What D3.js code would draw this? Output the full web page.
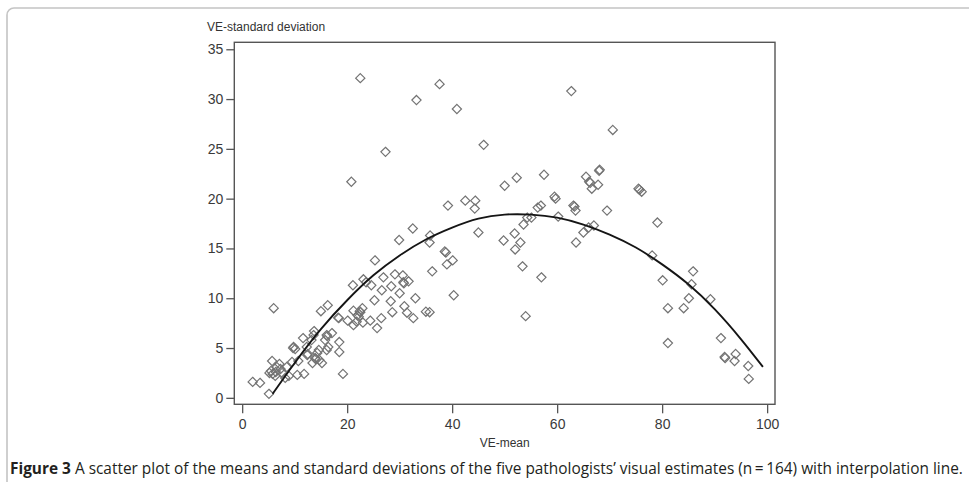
<!DOCTYPE html>
<html>
<head>
<meta charset="utf-8">
<script src="https://cdn.jsdelivr.net/npm/d3@7/dist/d3.min.js"></script>
<style>
  body { margin: 0; background: #fff; }
  svg text { font-family: "Liberation Sans", Arial, sans-serif; }
</style>
</head>
<body>
<div id="chart"></div>
<script>

// mean and SD of the five visual estimates, one entry per case
var veMean = [2.0, 3.4, 5.1, 6.0, 5.7, 5.2, 5.8, 5.5, 6.6, 7.1, 6.3, 7.6, 8.2, 8.5, 9.5, 9.8, 10.1, 10.7, 10.5, 8.9,
  11.6, 11.8, 12.4, 12.3, 13.2, 13.7, 13.6, 13.4, 13.9, 14.3, 14.6, 14.7, 15.2, 15.0, 16.3, 16.1, 17.1, 16.4, 16.1, 15.8,
  18.3, 18.5, 18.5, 19.2, 20.1, 21.1, 21.2, 21.2, 21.8, 22.2, 22.5, 22.9, 23.1, 23.6, 23.0, 24.4, 24.6, 25.2, 25.3, 25.7,
  26.5, 26.6, 26.9, 28.4, 28.3, 28.6, 29.1, 30.0, 30.6, 30.7, 30.9, 31.4, 31.7, 32.6, 33.0, 35.0, 35.7, 36.2, 38.8, 39.0,
  40.1, 40.3, 22.5, 33.2, 37.6, 40.9, 27.3, 46.0, 20.8, 32.5, 35.8, 35.7, 29.9, 38.6, 39.2, 42.5, 44.4, 44.3, 45.0,
  50.0, 52.3, 57.5, 62.7, 59.5, 56.9, 56.3, 63.1, 63.5, 65.5, 66.1, 66.6, 60.2, 54.3, 55.1, 70.6, 68.1, 67.8, 75.5, 76.1,
  69.5, 79.1, 49.8, 51.9, 53.0, 52.0, 53.6, 63.6, 65.0, 66.0, 67.0, 78.1, 53.4, 57.0, 54.0,
  80.1, 85.9, 85.6, 85.1, 89.2, 81.1, 84.1, 81.1, 91.2, 91.9, 92.0, 94.0, 93.8, 96.4, 96.5,
  9.7, 6.4, 7.3, 12.5, 22.4, 22.0, 30.8, 14.0, 68.0, 75.7, 66.3, 59.7, 63.3, 16.2, 18.4];
var veSd = [1.6, 1.5, 0.4, 9.0, 3.7, 2.5, 2.4, 2.7, 3.1, 3.4, 2.2, 2.5, 2.0, 3.1, 3.6, 5.1, 4.9, 3.7, 2.3, 2.2,
  6.0, 2.4, 4.3, 5.1, 5.8, 6.7, 6.3, 3.5, 4.0, 4.5, 4.8, 3.8, 3.5, 8.7, 9.3, 6.3, 6.5, 5.1, 4.8, 5.8,
  8.05, 5.6, 4.6, 2.4, 7.75, 11.3, 8.75, 7.3, 7.65, 8.15, 8.6, 9.0, 11.9, 11.6, 7.55, 7.75, 11.3, 9.8, 13.8, 7.0,
  8.0, 10.8, 12.1, 11.2, 9.7, 8.6, 12.4, 10.5, 12.3, 11.6, 9.2, 8.55, 11.7, 8.0, 10.0, 8.65, 8.6, 12.7, 14.6, 13.4,
  13.8, 10.3, 32.1, 29.9, 31.5, 29.0, 24.7, 25.4, 21.7, 17.0, 16.3, 15.6, 15.85, 14.7, 19.3, 19.8, 19.8, 19.0, 16.6,
  21.3, 22.1, 22.4, 30.8, 20.2, 19.3, 19.1, 19.3, 18.8, 22.2, 21.7, 21.0, 18.2, 18.1, 18.1, 26.9, 22.9, 21.4, 21.0, 20.7,
  18.8, 17.6, 15.8, 16.5, 15.6, 14.9, 17.4, 15.6, 16.6, 17.1, 17.3, 14.3, 13.2, 12.1, 8.2,
  11.8, 12.7, 11.4, 10.0, 9.9, 9.0, 9.0, 5.5, 6.0, 4.1, 4.0, 4.4, 3.7, 3.2, 1.9,
  5.0, 2.6, 2.9, 4.4, 8.7, 8.3, 11.5, 3.9, 22.8, 20.9, 21.6, 20.0, 19.2, 6.2, 8.0];

// interpolation line
var fitMean = [5.8, 10, 15, 20, 25, 30, 35, 40, 45, 50, 55, 60, 65, 70, 75, 80, 85, 90, 95, 99.2];
var fitSd = [0.4, 3.5, 6.9, 9.8, 12.3, 14.3, 15.9, 17.1, 18.0, 18.4, 18.4, 18.1, 17.4, 16.4, 15.1, 13.4, 11.4, 8.9, 5.9, 3.1];

var xTicks = [0, 20, 40, 60, 80, 100];
var yTicks = [0, 5, 10, 15, 20, 25, 30, 35];

var width = 969, height = 482;

var svg = d3.select("#chart").append("svg")
  .attr("width", width)
  .attr("height", height);

// rounded panel border
svg.append("rect")
  .attr("x", 7).attr("y", 8)
  .attr("width", 1000).attr("height", 600)
  .attr("rx", 7)
  .attr("fill", "none")
  .attr("stroke", "#c4c4c4")
  .attr("stroke-width", 1.6);

var x = d3.scaleLinear().domain([-1.5, 101.5]).range([234.3, 775]);
var y = d3.scaleLinear().domain([-0.65, 35.7]).range([404.3, 42.3]);

// plot frame
svg.append("rect")
  .attr("x", x(-1.5)).attr("y", y(35.7))
  .attr("width", x(101.5) - x(-1.5))
  .attr("height", y(-0.65) - y(35.7))
  .attr("fill", "none")
  .attr("stroke", "#555")
  .attr("stroke-width", 1.4);

var yAxis = svg.append("g")
  .attr("transform", "translate(" + x(-1.5) + ",0)")
  .call(d3.axisLeft(y).tickValues(yTicks).tickSize(8).tickPadding(3).tickSizeOuter(0));

var xAxis = svg.append("g")
  .attr("transform", "translate(0," + y(-0.65) + ")")
  .call(d3.axisBottom(x).tickValues(xTicks).tickSize(9).tickPadding(6).tickSizeOuter(0));

[xAxis, yAxis].forEach(function (g) {
  g.select(".domain").remove();
  g.selectAll(".tick line").attr("stroke", "#555").attr("stroke-width", 1.3);
  g.selectAll(".tick text")
    .attr("fill", "#3a3a3a")
    .style("font-size", "14px")
    .style("font-family", "'Liberation Sans', Arial, sans-serif");
});

// axis titles
svg.append("text")
  .attr("x", 207).attr("y", 31)
  .attr("fill", "#333")
  .style("font-size", "12px")
  .text("VE-standard deviation");

svg.append("text")
  .attr("x", x(50)).attr("y", 447)
  .attr("text-anchor", "middle")
  .attr("fill", "#333")
  .style("font-size", "12px")
  .text("VE-mean");

// scatter of diamonds
var pts = veMean.map(function (m, i) { return { m: m, s: veSd[i] }; });
var diamond = "M0,-4.6L4.6,0L0,4.6L-4.6,0Z";

svg.append("g")
  .selectAll("path")
  .data(pts)
  .enter().append("path")
  .attr("d", diamond)
  .attr("transform", function (d) { return "translate(" + x(d.m) + "," + y(d.s) + ")"; })
  .attr("fill", "none")
  .attr("stroke", "#737373")
  .attr("stroke-width", 1.2);

// fitted line
var fit = fitMean.map(function (m, i) { return [m, fitSd[i]]; });
var line = d3.line()
  .x(function (d) { return x(d[0]); })
  .y(function (d) { return y(d[1]); })
  .curve(d3.curveNatural);

svg.append("path")
  .attr("d", line(fit))
  .attr("fill", "none")
  .attr("stroke", "#151515")
  .attr("stroke-width", 1.9);

// caption
var cap = svg.append("text")
  .attr("x", 10).attr("y", 474)
  .attr("fill", "#231f20")
  .style("font-family", "'Open Sans', 'Noto Sans', sans-serif")
  .style("font-size", "15px");
cap.append("tspan").style("font-weight", "bold").text("Figure 3");
cap.append("tspan").text(" A scatter plot of the means and standard deviations of the five pathologists\u2019 visual estimates (n\u2009=\u2009164) with interpolation line.");

// shrink the caption to the panel width
var capWidth = cap.node().getComputedTextLength();
var target = 964 - 10;
if (capWidth > 0) {
  cap.style("font-size", (15 * target / capWidth).toFixed(2) + "px");
}

</script>
</body>
</html>
